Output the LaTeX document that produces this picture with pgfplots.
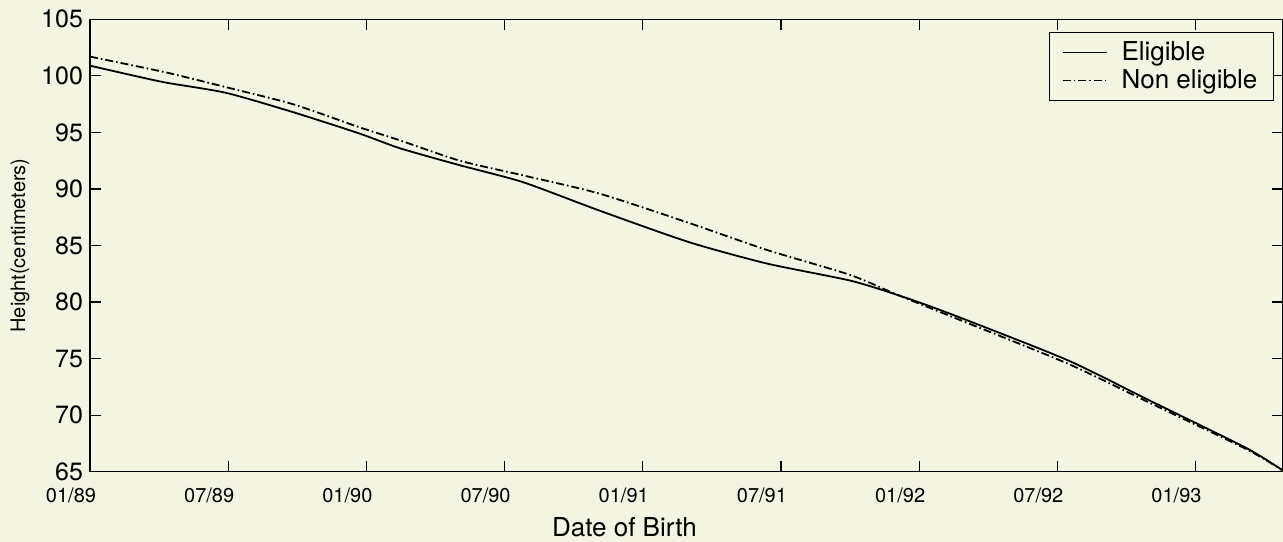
\documentclass[border=0pt]{standalone}
\usepackage{fontspec}
\setmainfont{TeX Gyre Heros}
\usepackage{pgfplots}
\pgfplotsset{compat=1.18}
\usetikzlibrary{backgrounds}
\definecolor{bg}{RGB}{243,244,226}
\begin{document}
\begin{tikzpicture}
\begin{axis}[name=ax, scale only axis, width=596.5pt, height=226.2pt,
  xmin=0, xmax=51.8, ymin=65, ymax=105,
  xtick={0,6,...,48},
  xticklabels={01/89,07/89,01/90,07/90,01/91,07/91,01/92,07/92,01/93},
  ytick={65,70,...,105},
  tick align=inside, major tick length=5.5pt,
  axis line style={line width=0.6pt},
  tick style={line width=0.6pt, black},
  /pgf/number format/assume math mode=true,
  yticklabel style={font=\fontsize{12.5}{14}\selectfont},
  xticklabel style={font=\fontsize{10}{12}\selectfont, xshift=-9.5pt, yshift=-4.5pt},
  xlabel={Date of Birth},
  xlabel style={font=\fontsize{13}{15}\selectfont, at={(rel axis cs:0.448,0)}, anchor=center, yshift=-27.7pt},
  ylabel={Height(centimeters)},
  ylabel style={font=\fontsize{10}{12}\selectfont, at={([xshift=-35pt]rel axis cs:0,0.5)}, anchor=center},
  legend style={at={(rel axis cs:1,1)}, anchor=north east, xshift=-4.5pt, yshift=-6.35pt,
    font=\fontsize{13}{15}\selectfont, draw=black, line width=0.6pt, fill=bg,
    inner xsep=6pt, inner ysep=2.5pt, row sep=-1pt, cells={anchor=west},
    /tikz/every odd column/.append style={column sep=5pt}},
  legend image code/.code={\draw[#1] (0pt,0pt) -- (22pt,0pt);},
]
\addplot[black, line width=0.9pt, smooth, tension=0.4] coordinates {
(0,100.9) (1.5,100.2) (3.3,99.4) (5.9,98.5) (8.8,96.8) (11.7,94.9) (13.45,93.6)
(16.05,92.1) (18.8,90.6) (22.1,88.1) (26.0,85.3) (29.4,83.4) (33.0,81.9)
(35.1,80.6) (37.3,79.0) (42.4,74.9) (46,71.3) (50.2,67.1) (51.8,65.1)
};
\addlegendentry{Eligible}
\addplot[black, line width=0.9pt, smooth, tension=0.4, dash pattern=on 4pt off 1.5pt on 0.8pt off 1.5pt] coordinates {
(0,101.7) (3.3,100.3) (5.9,99.0) (8.8,97.5) (11.7,95.45) (13.45,94.3)
(16.05,92.5) (18.8,91.2) (22.1,89.6) (26.0,87.0) (29.4,84.6) (33.0,82.4)
(35.1,80.6) (37.3,78.8) (42.4,74.6) (46,71.1) (50.2,67.0) (51.8,65.1)
};
\addlegendentry{Non eligible}
\end{axis}
\begin{scope}[on background layer]
\fill[bg] ([shift={(-45pt,-35.15pt)}]ax.south west) rectangle ([shift={(0pt,9.65pt)}]ax.north east);
\end{scope}
\pgfresetboundingbox
\path[use as bounding box] ([shift={(-45pt,-35.15pt)}]ax.south west) rectangle ([shift={(0pt,9.65pt)}]ax.north east);
\end{tikzpicture}
\end{document}
